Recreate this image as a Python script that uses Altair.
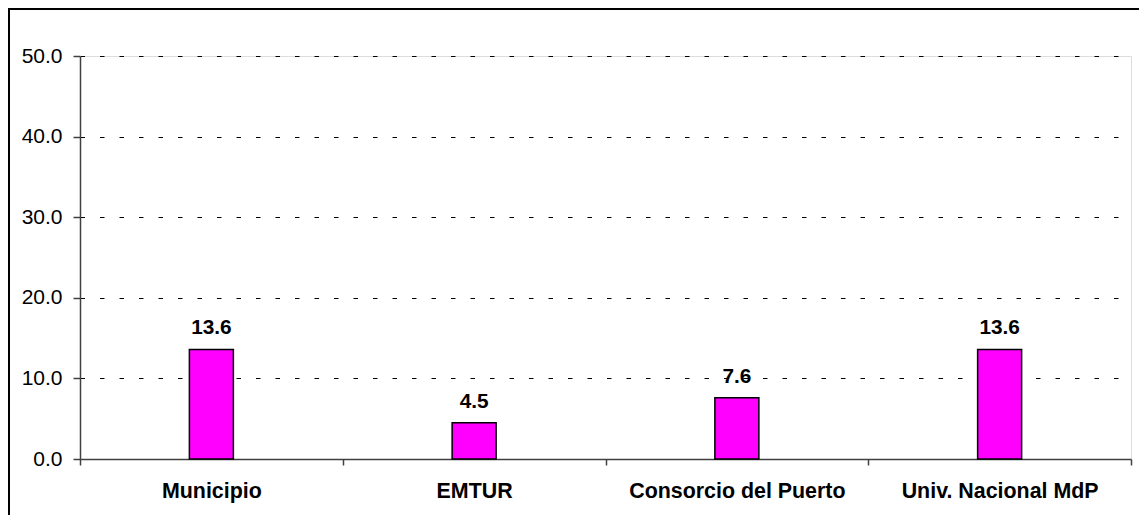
import altair as alt
import pandas as pd

categories = ["Municipio", "EMTUR", "Consorcio del Puerto", "Univ. Nacional MdP"]
values = [13.6, 4.5, 7.6, 13.6]
y_ticks = [0, 10, 20, 30, 40, 50]

df = pd.DataFrame({"cat": categories, "val": values})

FONT = "Liberation Sans"
W, H = 1051, 403

x_enc = alt.X(
    "cat:N",
    sort=categories,
    title=None,
    scale=alt.Scale(paddingInner=0, paddingOuter=0),
    axis=alt.Axis(
        tickBand="extent",
        labelAngle=0,
        labelFont=FONT,
        labelFontSize=21.4,
        labelFontWeight="bold",
        labelColor="#000000",
        labelPadding=15,
        labelLimit=0,
        tickSize=6,
        tickColor="#404040",
        tickWidth=1.5,
        domainColor="#404040",
        domainWidth=1.5,
        grid=False,
    ),
)

y_enc = alt.Y(
    "val:Q",
    title=None,
    scale=alt.Scale(domain=[0, 50], nice=False),
    axis=alt.Axis(
        values=y_ticks,
        format=".1f",
        labelFont=FONT,
        labelFontSize=21,
        labelColor="#000000",
        labelPadding=11,
        tickSize=7,
        tickColor="#404040",
        tickWidth=1.5,
        domainColor="#404040",
        domainWidth=1.5,
        grid=True,
        gridColor="#000000",
        gridWidth=1,
        gridDash=[4.5, 15],
    ),
)

base = alt.Chart(df)

bars = base.mark_bar(
    size=44, color="#FF00FF", stroke="#000000", strokeWidth=1.5
).encode(x=x_enc, y=y_enc)

labels = base.mark_text(
    font=FONT, fontSize=20.8, fontWeight="bold", color="#000000",
    baseline="alphabetic", dy=-15
).encode(
    x=alt.X("cat:N", sort=categories),
    y=alt.Y("val:Q"),
    text=alt.Text("val:Q", format=".1f"),
)

border = alt.Chart(pd.DataFrame({"a": [0]})).mark_rect(
    fillOpacity=0, stroke="#000000", strokeWidth=2
).encode(
    x=alt.value(-71),
    x2=alt.value(1300),
    y=alt.value(-47),
    y2=alt.value(700),
)

chart = alt.layer(border, bars, labels).properties(
    width=W,
    height=H,
    autosize=alt.AutoSizeParams(type="none"),
    padding={"left": 72, "top": 48, "right": 8, "bottom": 56},
).configure_view(
    stroke="#808080", strokeWidth=1.5
).configure(background="#FFFFFF")

chart.save("out.html", embed_options={"renderer": "svg", "actions": False})
